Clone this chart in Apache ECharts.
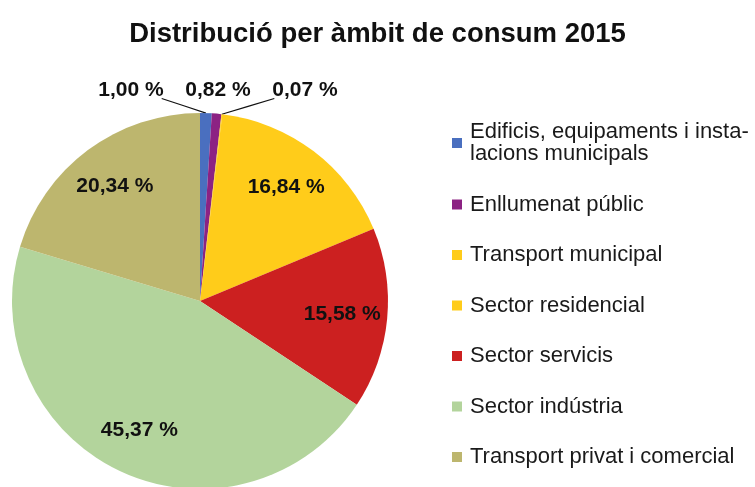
<!DOCTYPE html>
<html>
<head>
<meta charset="utf-8">
<script src="https://cdn.jsdelivr.net/npm/echarts@6/dist/echarts.min.js"></script>
<style>
  html, body { margin: 0; padding: 0; background: #fff; }
  #chart { width: 755px; height: 487px; }
</style>
</head>
<body>
<div id="chart"></div>
<script>
var categories = [
    'Edificis, equipaments i insta-\nlacions municipals',
    'Enllumenat públic',
    'Transport municipal',
    'Sector residencial',
    'Sector servicis',
    'Sector indústria',
    'Transport privat i comercial'
];
var shares = [1.00, 0.82, 0.07, 16.84, 15.58, 45.37, 20.34];
var colors = ['#4a6fbf', '#8c2283', '#ffcc1a', '#ffcc1a', '#cc2020', '#b3d49c', '#bdb66e'];

var CX = 200, CY = 301, R = 188;
// labels of the tiny slices sit in a row above the pie
var smallX = [131, 218, 305], smallY = 90;

var chart = echarts.init(document.getElementById('chart'));

var pieData = [];
for (var i = 0; i < shares.length; i++) {
    var small = shares[i] < 5;
    pieData.push({
        name: categories[i],
        value: shares[i],
        itemStyle: { color: colors[i] },
        label: { position: small ? 'outside' : 'inside' },
        labelLine: { show: small && i !== 1 }
    });
}

var option = {
    backgroundColor: '#fff',
    animation: false,
    title: {
        text: 'Distribució per àmbit de consum 2015',
        left: 'center',
        top: 15,
        textStyle: {
            fontFamily: 'Liberation Sans, Arial, sans-serif',
            fontWeight: 'bold',
            fontSize: 27.5,
            color: '#111'
        }
    },
    legend: {
        orient: 'vertical',
        left: 447,
        top: 116,
        itemWidth: 10,
        itemHeight: 10,
        itemGap: 28.5,
        icon: 'rect',
        selectedMode: false,
        data: categories,
        textStyle: {
            fontFamily: 'Liberation Sans, Arial, sans-serif',
            fontSize: 22,
            lineHeight: 22,
            color: '#1a1a1a',
            padding: [0, 0, 0, 3]
        }
    },
    series: [{
        type: 'pie',
        center: [CX, CY],
        radius: R,
        startAngle: 90,
        clockwise: true,
        avoidLabelOverlap: false,
        silent: true,
        label: {
            fontFamily: 'Liberation Sans, Arial, sans-serif',
            fontWeight: 'bold',
            fontSize: 21,
            color: '#111',
            formatter: function (p) {
                return p.value.toFixed(2).replace('.', ',') + ' %';
            }
        },
        labelLine: {
            length: 8,
            length2: 10,
            lineStyle: { color: '#111', width: 1.2 }
        },
        labelLayout: function (p) {
            var i = p.dataIndex;
            var w = p.labelRect.width, h = p.labelRect.height;
            if (shares[i] < 5) {
                var res = { x: smallX[i], y: smallY, align: 'center', verticalAlign: 'middle' };
                if (i !== 1 && p.labelLinePoints) {
                    // leader runs from the slice edge to the label's lower inner corner
                    var s = p.labelLinePoints[0];
                    var e = [i === 0 ? smallX[i] + w / 2 - 2 : smallX[i] - w / 2 + 2, smallY + h / 2 - 2];
                    res.labelLinePoints = [s, [(s[0] + e[0]) / 2, (s[1] + e[1]) / 2], e];
                }
                return res;
            }
            var lx = p.labelRect.x + w / 2;
            var ly = p.labelRect.y + h / 2;
            var dx = lx - CX, dy = ly - CY;
            var d = Math.sqrt(dx * dx + dy * dy) || 1;
            var k = 0.76 * R / d;
            return { x: CX + dx * k, y: CY + dy * k, align: 'center', verticalAlign: 'middle' };
        },
        data: pieData
    }]
};

chart.setOption(option);
</script>
</body>
</html>
